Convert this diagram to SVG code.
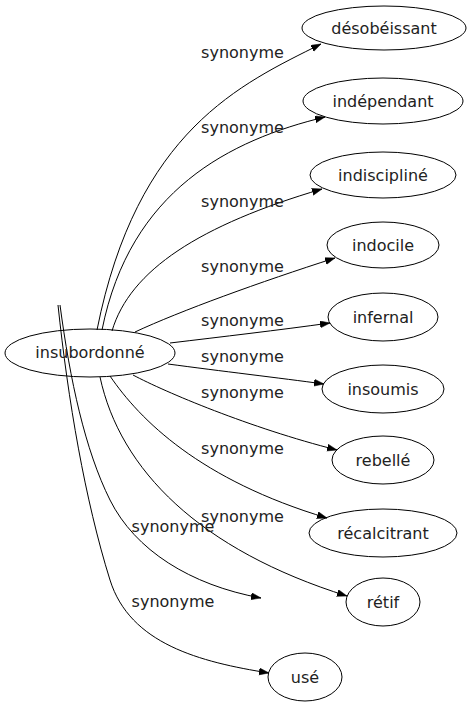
<svg xmlns="http://www.w3.org/2000/svg" width="470" height="707" viewBox="0 0 470 707">
<style>
.n ellipse{fill:none;stroke:#000;stroke-width:1}
text{font-family:"DejaVu Sans",Verdana,sans-serif;font-size:16px;fill:#222;text-anchor:middle}
.e path{fill:none;stroke:#000;stroke-width:1;marker-end:url(#ah)}
</style>
<defs>
<marker id="ah" markerUnits="userSpaceOnUse" markerWidth="11" markerHeight="8" refX="10" refY="3.5" orient="auto">
<path d="M0,0 L10,3.5 L0,7 z" fill="#000" stroke="#000" stroke-width="0.5"/>
</marker>
</defs>
<rect width="470" height="707" fill="#fff"/>
<g id="edges" class="e">
<path d="M97,330 C137,130 241,84 321,44"/>
<path d="M102,330 C130,190 230,140 325,117"/>
<path d="M112,331 C130,270 200,225 322,189"/>
<path d="M135,332 C180,311 260,282 335,258"/>
<path d="M170,343 C220,337 280,330 330,323"/>
<path d="M168,364 C220,371 280,378 324,384"/>
<path d="M133,375 C165,392 250,428 337,450"/>
<path d="M110,376 C140,420 200,480 327,518"/>
<path d="M100,377 C120,470 200,550 347,596"/>
<path d="M60,305 C70,380 85,450 110,500 C135,550 190,585 261,598"/>
<path d="M58,305 C68,400 85,500 110,580 C130,644 200,662 269,673"/>
</g>
<g id="edge-labels">
<text x="242.5" y="58">synonyme</text>
<text x="242.5" y="133">synonyme</text>
<text x="242.5" y="207">synonyme</text>
<text x="242.5" y="272">synonyme</text>
<text x="242.5" y="326">synonyme</text>
<text x="242.5" y="362">synonyme</text>
<text x="242.5" y="398">synonyme</text>
<text x="242.5" y="454">synonyme</text>
<text x="242.5" y="522">synonyme</text>
<text x="173" y="532">synonyme</text>
<text x="173" y="607">synonyme</text>
</g>
<g id="n-insubordonne" class="n"><ellipse cx="90" cy="353" rx="85" ry="24"/><text x="90" y="358">insubordonné</text></g>
<g id="n-desobeissant" class="n"><ellipse cx="384" cy="28" rx="82" ry="22"/><text x="384" y="34">désobéissant</text></g>
<g id="n-independant" class="n"><ellipse cx="383" cy="101" rx="80" ry="23"/><text x="383" y="107">indépendant</text></g>
<g id="n-indiscipline" class="n"><ellipse cx="383" cy="175" rx="73" ry="23"/><text x="383" y="181">indiscipliné</text></g>
<g id="n-indocile" class="n"><ellipse cx="383" cy="245" rx="56" ry="23"/><text x="383" y="251">indocile</text></g>
<g id="n-infernal" class="n"><ellipse cx="383" cy="317" rx="55" ry="24"/><text x="383" y="323">infernal</text></g>
<g id="n-insoumis" class="n"><ellipse cx="383" cy="389" rx="61" ry="24"/><text x="383" y="395">insoumis</text></g>
<g id="n-rebelle" class="n"><ellipse cx="383" cy="460" rx="51" ry="24"/><text x="383" y="466">rebellé</text></g>
<g id="n-recalcitrant" class="n"><ellipse cx="383" cy="533" rx="74" ry="24"/><text x="383" y="539">récalcitrant</text></g>
<g id="n-retif" class="n"><ellipse cx="383" cy="602" rx="37" ry="24"/><text x="383" y="608">rétif</text></g>
<g id="n-use" class="n"><ellipse cx="305" cy="677" rx="37" ry="24"/><text x="305" y="683">usé</text></g>
</svg>
